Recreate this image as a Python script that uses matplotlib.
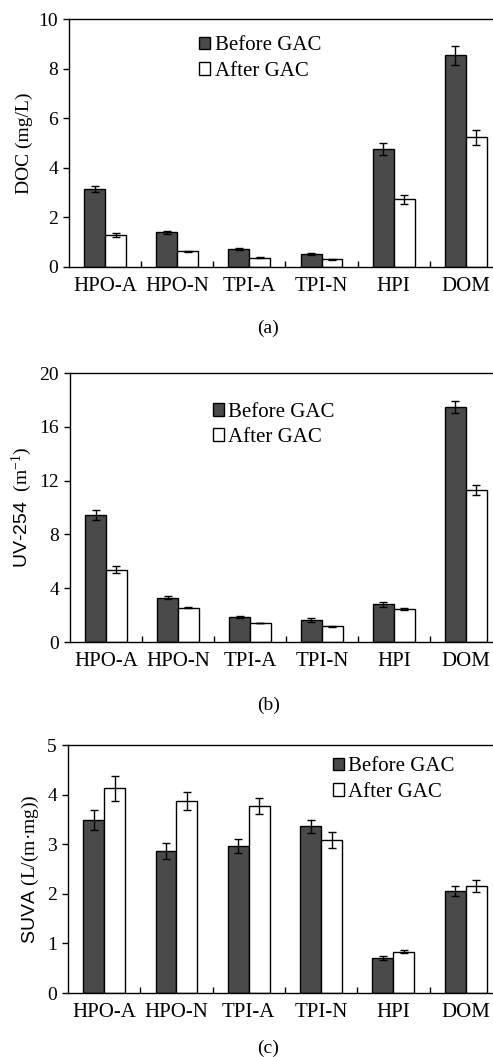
import matplotlib.pyplot as plt
import numpy as np

plt.rcParams['font.family'] = ['Liberation Serif', 'DejaVu Serif']
plt.rcParams['mathtext.fontset'] = 'custom'
plt.rcParams['mathtext.rm'] = 'Liberation Serif'
plt.rcParams['mathtext.it'] = 'Liberation Serif:italic'

groups = ['HPO-A', 'HPO-N', 'TPI-A', 'TPI-N', 'HPI', 'DOM']

doc_before = [3.15, 1.40, 0.72, 0.52, 4.76, 8.53]
doc_before_err = [0.12, 0.05, 0.03, 0.03, 0.25, 0.40]
doc_after = [1.30, 0.63, 0.38, 0.32, 2.74, 5.23]
doc_after_err = [0.08, 0.03, 0.02, 0.02, 0.18, 0.30]

uv_before = [9.44, 3.30, 1.86, 1.61, 2.81, 17.5]
uv_before_err = [0.40, 0.12, 0.07, 0.15, 0.20, 0.45]
uv_after = [5.39, 2.56, 1.42, 1.17, 2.46, 11.3]
uv_after_err = [0.25, 0.05, 0.03, 0.05, 0.07, 0.35]

suva_before = [3.49, 2.86, 2.97, 3.36, 0.70, 2.06]
suva_before_err = [0.20, 0.16, 0.14, 0.13, 0.04, 0.10]
suva_after = [4.13, 3.87, 3.77, 3.09, 0.83, 2.16]
suva_after_err = [0.25, 0.18, 0.16, 0.16, 0.03, 0.12]

panels = [
    dict(pos=[0.140, 0.7474, 0.878, 0.2346], b=doc_before, be=doc_before_err,
         a=doc_after, ae=doc_after_err, ylim=10, ticks=[0, 2, 4, 6, 8, 10],
         ylabel='DOC (mg/L)', yfont='Liberation Serif', leg=(0.30, 0.93), cap='(a)', capy=328),
    dict(pos=[0.142, 0.3926, 0.876, 0.2545], b=uv_before, be=uv_before_err,
         a=uv_after, ae=uv_after_err, ylim=20, ticks=[0, 4, 8, 12, 16, 20],
         ylabel=r'UV-254  $\mathrm{(m^{-1})}$', yfont='Liberation Sans', leg=(0.33, 0.89), cap='(b)', capy=705),
    dict(pos=[0.138, 0.0605, 0.880, 0.2346], b=suva_before, be=suva_before_err,
         a=suva_after, ae=suva_after_err, ylim=5, ticks=[0, 1, 2, 3, 4, 5],
         ylabel=r'SUVA $\mathrm{(L/(m·mg))}$', yfont='Liberation Sans', leg=(0.61, 0.95), cap='(c)', capy=1048),
]

fig = plt.figure(figsize=(4.93, 10.57), dpi=100)
x = np.arange(len(groups)) + 0.5
w = 0.29

for p in panels:
    ax = fig.add_axes(p['pos'])
    ax.bar(x - w / 2, p['b'], w, color='#4a4a4a', edgecolor='black', linewidth=1,
           yerr=p['be'], capsize=3, error_kw=dict(elinewidth=1, capthick=1), label='Before GAC')
    ax.bar(x + w / 2, p['a'], w, color='white', edgecolor='black', linewidth=1,
           yerr=p['ae'], capsize=3, error_kw=dict(elinewidth=1, capthick=1), label='After GAC')
    ax.set_xlim(0, 6)
    ax.set_ylim(0, p['ylim'])
    ax.set_yticks(p['ticks'])
    ax.set_xticks(x)
    ax.set_xticklabels(groups)
    ax.set_xticks(np.arange(1, 6), minor=True)
    ax.tick_params(axis='x', which='major', length=0, labelsize=15, pad=7)
    ax.tick_params(axis='x', which='minor', direction='in', length=4, width=1)
    ax.tick_params(axis='y', direction='out', length=4, width=1, labelsize=14, pad=4)
    for s in ax.spines.values():
        s.set_linewidth(1)
    ax.set_ylabel(p['ylabel'], fontsize=14, family=[p['yfont'], 'DejaVu Sans'], labelpad=4)
    ax.legend(loc='upper left', bbox_to_anchor=p['leg'], frameon=False, fontsize=15,
              handlelength=0.55, handleheight=0.55, handletextpad=0.2,
              borderpad=0, borderaxespad=0, labelspacing=0.3)
    fig.text(0.544, 1 - p['capy'] / 1057, p['cap'], ha='center', va='center', fontsize=14)

fig.savefig('out.png', dpi=100)
